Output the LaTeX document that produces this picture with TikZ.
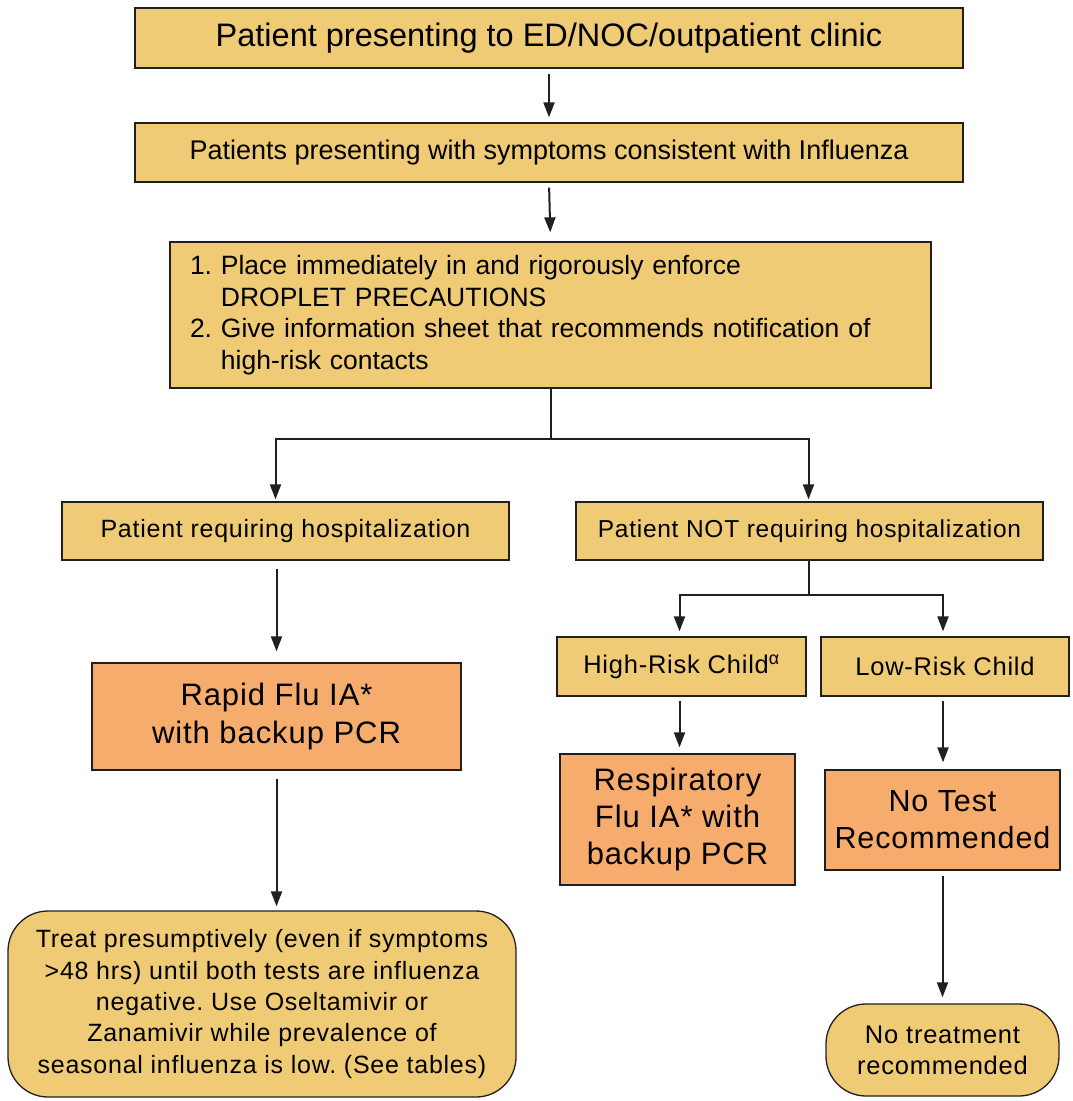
\documentclass[tikz,border=0pt]{standalone}
\usepackage{fontspec}
\setmainfont{Liberation Sans}
\newfontfamily\spacedfont[LetterSpace=3]{Liberation Sans}
\usetikzlibrary{arrows.meta}
\definecolor{boxyellow}{RGB}{240,203,118}
\definecolor{boxorange}{RGB}{246,172,108}
\definecolor{linegray}{RGB}{35,31,32}
\frenchspacing

\begin{document}
\begin{tikzpicture}[x=1pt, y=-1pt]
				\tikzstyle{stepnode}=[draw=linegray, line width=1.3pt, fill=boxyellow, text=black, inner sep=0pt, align=center]
				\tikzstyle{testnode}=[stepnode, fill=boxorange]
				\tikzstyle{endnode}=[stepnode, rounded corners=40pt]
				\tikzstyle{flow}=[-{Triangle[length=15pt,width=11pt]}, line width=2pt, draw=linegray]
				
				\useasboundingbox (0,0) rectangle (1073,1101);
				
				\node (t0) at (549,38) [stepnode, minimum width=828, minimum height=60, font=\fontsize{32.5}{38}\selectfont] {Patient presenting to ED/NOC/outpatient clinic};
				\node (t1) at (549,152.5) [stepnode, minimum width=828, minimum height=59, font=\fontsize{27}{32}\selectfont] {Patients presenting with symptoms consistent with Influenza};
				\node (t2) at (550.5,315) [stepnode, minimum width=761, minimum height=146, text width=721, align=left, font=\fontsize{26.5}{31.5}\selectfont] {1. Place immediately in and rigorously enforce\\
					\phantom{1. }DROPLET PRECAUTIONS\\
					2. Give information sheet that recommends notification of\\
					\phantom{2. }high-risk contacts};
				
				\draw [flow, shorten <=5pt, shorten >=5pt] (t0.south) -- (t1.north);
				\draw [flow, shorten <=5pt, shorten >=9pt] (t1.south) -- (t2.north);
				
				% admitted branch
				\node (t3) at (285.5,531) [stepnode, minimum width=447, minimum height=58, font=\spacedfont\fontsize{25}{29}\selectfont] {Patient requiring hospitalization};
				\node (t4) at (276.5,716.5) [testnode, minimum width=369, minimum height=107, font=\spacedfont\fontsize{31}{38}\selectfont] {Rapid Flu IA*\\with backup PCR};
				\node (t5) at (262,1004) [endnode, minimum width=508, minimum height=186, font=\spacedfont\fontsize{25}{31.3}\selectfont] {Treat presumptively (even if symptoms\\
					>48 hrs) until both tests are influenza\\
					negative. Use Oseltamivir or\\
					Zanamivir while prevalence of\\
					seasonal influenza is low. (See tables)};
				
				% outpatient branch
				\node (t6) at (809.5,531) [stepnode, minimum width=467, minimum height=58, font=\spacedfont\fontsize{24.5}{29}\selectfont] {Patient NOT requiring hospitalization};
				\node (t7) at (681.5,666.5) [stepnode, minimum width=249, minimum height=59, font=\spacedfont\fontsize{25.5}{30}\selectfont] {High-Risk Child\textsuperscript{α}};
				\node (t8) at (945,666.5) [stepnode, minimum width=248, minimum height=59, font=\spacedfont\fontsize{25.5}{30}\selectfont] {Low-Risk Child};
				\node (t9) at (677.5,819.5) [testnode, minimum width=235, minimum height=131, font=\spacedfont\fontsize{31}{37}\selectfont] {Respiratory\\Flu IA* with\\backup PCR};
				\node (t10) at (942.5,820) [testnode, minimum width=235, minimum height=100, font=\spacedfont\fontsize{30.5}{37}\selectfont] {No Test\\Recommended};
				\node (t11) at (942.5,1050) [endnode, minimum width=233, minimum height=92, font=\spacedfont\fontsize{25.5}{31}\selectfont] {No treatment\\recommended};
				
				\draw [flow, shorten >=2pt] (t2.south) -- ++(0,50) -| ([xshift=-10pt]t3.north);
				\draw [flow, shorten >=2pt] (t2.south) -- ++(0,50) -| ([xshift=-1pt]t6.north);
				\draw [flow, shorten <=8pt, shorten >=11pt] (t3.south -| t4.north) -- (t4.north);
				\draw [flow, shorten <=8pt, shorten >=4pt] (t4.south) -- (t4.south |- t5.north);
				
				\draw [flow, shorten >=5pt] ([xshift=-1pt]t6.south) -- ++(0,34) -| ([xshift=-2pt]t7.north);
				\draw [flow, shorten >=5pt] ([xshift=-1pt]t6.south) -- ++(0,34) -| ([xshift=-2pt]t8.north);
				\draw [flow, shorten <=4pt, shorten >=6pt] ([xshift=-2pt]t7.south) -- ([xshift=-2pt]t7.south |- t9.north);
				\draw [flow, shorten <=4pt, shorten >=7pt] ([xshift=-2pt]t8.south) -- ([xshift=-2pt]t8.south |- t10.north);
				\draw [flow, shorten <=5pt, shorten >=6pt] (t10.south) -- (t10.south |- t11.north);
\end{tikzpicture}
\end{document}
